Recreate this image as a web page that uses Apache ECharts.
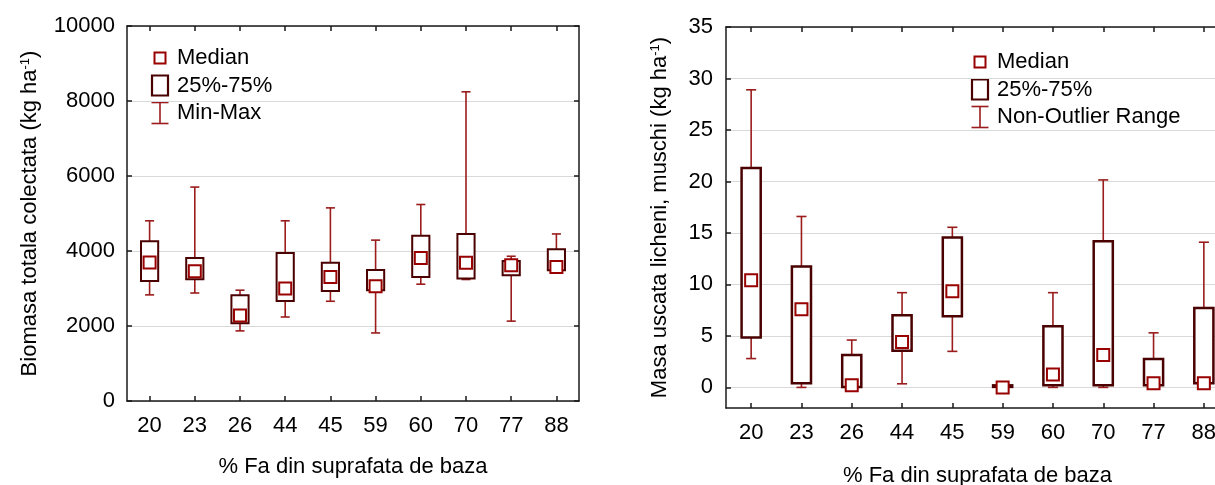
<!DOCTYPE html>
<html>
<head>
<meta charset="utf-8">
<script src="https://cdn.jsdelivr.net/npm/echarts@6/dist/echarts.min.js"></script>
<style>
html,body{margin:0;padding:0;background:#fff;}
#chart{width:1215px;height:485px;}
</style>
</head>
<body>
<div id="chart"></div>
<script>
// ---- Data ----
const categories = ['20', '23', '26', '44', '45', '59', '60', '70', '77', '88'];

// Left chart: Biomasa totala colectata (kg ha-1)
const biomassMin    = [2830, 2880, 1870, 2240, 2660, 1815, 3115, 3240, 2130, 3435];
const biomassQ1     = [3200, 3250, 2075, 2670, 2935, 2955, 3310, 3265, 3355, 3490];
const biomassMedian = [3695, 3460, 2280, 3000, 3310, 3060, 3815, 3685, 3620, 3575];
const biomassQ3     = [4260, 3815, 2820, 3950, 3685, 3495, 4405, 4455, 3735, 4050];
const biomassMax    = [4805, 5705, 2955, 4805, 5150, 4290, 5240, 8245, 3860, 4455];

// Right chart: Masa uscata licheni, muschi (kg ha-1)
const lichenMin    = [2.8, 0.0, 0.05, 0.35, 3.5, 0.0, 0.0, 0.0, 0.1, 0.3];
const lichenQ1     = [4.85, 0.4, 0.05, 3.55, 6.9, 0.05, 0.22, 0.22, 0.22, 0.4];
const lichenMedian = [10.4, 7.6, 0.2, 4.4, 9.35, 0.0, 1.25, 3.15, 0.4, 0.4];
const lichenQ3     = [21.3, 11.75, 3.15, 7.0, 14.55, 0.2, 5.95, 14.2, 2.75, 7.7];
const lichenMax    = [28.9, 16.6, 4.6, 9.2, 15.55, 0.45, 9.2, 20.15, 5.3, 14.1];

const leftTicks = [0, 2000, 4000, 6000, 8000, 10000];
const rightTicks = [0, 5, 10, 15, 20, 25, 30, 35];

const xTitle = '% Fa din suprafata de baza';
const leftYTitle = '{a|Biomasa totala colectata (kg ha}{s|-1}{a|)}';
const rightYTitle = '{a|Masa uscata licheni, muschi (kg ha}{s|-1}{a|)}';
const legendLeft = ['Median', '25%-75%', 'Min-Max'];
const legendRight = ['Median', '25%-75%', 'Non-Outlier Range'];

// ---- Styles ----
const FONT = "'Liberation Sans', Arial, sans-serif";
const FS = 22;
const BOX_COLOR = '#4a0000';
const WHISKER_COLOR = '#9a1c1c';
const MEDIAN_COLOR = '#990000';
const AXIS_COLOR = '#1a1a1a';
const GRID_COLOR = '#d9d9d9';

function whiskerSeries(xi, yi, mins, maxs) {
  return {
    type: 'custom', xAxisIndex: xi, yAxisIndex: yi, z: 2,
    data: categories.map((c, i) => [i, mins[i], maxs[i]]),
    renderItem: function (params, api) {
      const x = api.value(0);
      const lo = api.coord([x, api.value(1)]);
      const hi = api.coord([x, api.value(2)]);
      const cw = api.size([1, 0])[0] * 0.2;
      const st = { stroke: WHISKER_COLOR, lineWidth: 1.6 };
      return {
        type: 'group',
        children: [
          { type: 'line', shape: { x1: lo[0], y1: lo[1], x2: hi[0], y2: hi[1] }, style: st },
          { type: 'line', shape: { x1: hi[0] - cw / 2, y1: hi[1], x2: hi[0] + cw / 2, y2: hi[1] }, style: st },
          { type: 'line', shape: { x1: lo[0] - cw / 2, y1: lo[1], x2: lo[0] + cw / 2, y2: lo[1] }, style: st }
        ]
      };
    }
  };
}

function boxSeries(xi, yi, q1, q3, lw) {
  return {
    type: 'custom', xAxisIndex: xi, yAxisIndex: yi, z: 3,
    data: categories.map((c, i) => [i, q1[i], q3[i]]),
    renderItem: function (params, api) {
      const x = api.value(0);
      const lo = api.coord([x, api.value(1)]);
      const hi = api.coord([x, api.value(2)]);
      const w = api.size([1, 0])[0] * 0.38;
      return {
        type: 'rect',
        shape: { x: lo[0] - w / 2, y: hi[1], width: w, height: Math.max(lo[1] - hi[1], 1) },
        style: { fill: '#fff', stroke: BOX_COLOR, lineWidth: lw }
      };
    }
  };
}

function medianSeries(xi, yi, med) {
  return {
    type: 'scatter', xAxisIndex: xi, yAxisIndex: yi, z: 4,
    symbol: 'rect', symbolSize: 12,
    itemStyle: { color: '#fff', borderColor: MEDIAN_COLOR, borderWidth: 2, opacity: 1 },
    data: categories.map((c, i) => [i, med[i]])
  };
}

function catAxis(gi, pos, showLabel) {
  return {
    type: 'category', gridIndex: gi, position: pos, data: categories,
    boundaryGap: true,
    axisLine: { show: true, onZero: false, lineStyle: { color: AXIS_COLOR, width: 1.5 } },
    axisTick: { show: true, inside: true, length: 5, alignWithLabel: true, lineStyle: { color: AXIS_COLOR, width: 1.5 } },
    axisLabel: { show: showLabel, color: '#000', fontSize: FS, fontFamily: FONT, margin: 14 },
    splitLine: { show: false }
  };
}

function richName() {
  return {
    color: '#000', fontSize: FS, fontFamily: FONT,
    rich: {
      a: { fontSize: FS, fontFamily: FONT, color: '#000' },
      s: { fontSize: 13, fontFamily: FONT, color: '#000', verticalAlign: 'top', lineHeight: 22 }
    }
  };
}

function legendGraphics(x0, yMed, labels) {
  const lineH = 27.5;
  const cx = x0;
  const tx = x0 + 17;
  const els = [];
  els.push({ type: 'rect', shape: { x: cx - 5.5, y: yMed - 5.5, width: 11, height: 11 },
    style: { fill: '#fff', stroke: MEDIAN_COLOR, lineWidth: 2 } });
  const yb = yMed + lineH;
  els.push({ type: 'rect', shape: { x: cx - 8, y: yb - 10, width: 16, height: 20 },
    style: { fill: '#fff', stroke: BOX_COLOR, lineWidth: 2.2 } });
  const yw = yMed + 2 * lineH;
  els.push({ type: 'polyline', shape: { points: [[cx - 8.5, yw - 10.5], [cx + 8.5, yw - 10.5]] }, style: { stroke: WHISKER_COLOR, lineWidth: 1.6, fill: null } });
  els.push({ type: 'polyline', shape: { points: [[cx, yw - 10.5], [cx, yw + 10.5]] }, style: { stroke: WHISKER_COLOR, lineWidth: 1.6, fill: null } });
  els.push({ type: 'polyline', shape: { points: [[cx - 8.5, yw + 10.5], [cx + 8.5, yw + 10.5]] }, style: { stroke: WHISKER_COLOR, lineWidth: 1.6, fill: null } });
  [yMed, yb, yw].forEach((y, i) => {
    els.push({ type: 'text', x: tx, y: y,
      style: { text: labels[i], font: FS + 'px ' + FONT, fill: '#000', verticalAlign: 'middle', align: 'left' } });
  });
  return els;
}

const chart = echarts.init(document.getElementById('chart'), null, { renderer: 'canvas' });

const plainNum = v => String(v);

const option = {
  animation: false,
  backgroundColor: '#fff',
  grid: [
    { left: 127, top: 26, width: 452, height: 375, containLabel: false, outerBoundsMode: 'none' },
    { left: 726, top: 27, width: 503, height: 381, containLabel: false, outerBoundsMode: 'none' }
  ],
  xAxis: [
    Object.assign(catAxis(0, 'bottom', true), {
      name: xTitle, nameLocation: 'middle', nameGap: 55,
      nameTextStyle: { color: '#000', fontSize: FS, fontFamily: FONT }
    }),
    catAxis(0, 'top', false),
    Object.assign(catAxis(1, 'bottom', true), {
      name: xTitle, nameLocation: 'middle', nameGap: 57,
      nameTextStyle: { color: '#000', fontSize: FS, fontFamily: FONT }
    }),
    catAxis(1, 'top', false)
  ],
  yAxis: [
    {
      type: 'value', gridIndex: 0, position: 'left', min: 0, max: 10000, interval: 2000,
      name: leftYTitle, nameLocation: 'middle', nameGap: 86, nameRotate: 90,
      nameTextStyle: richName(),
      axisLine: { show: true, lineStyle: { color: AXIS_COLOR, width: 1.5 } },
      axisTick: { show: true, inside: true, length: 5, customValues: leftTicks, lineStyle: { color: AXIS_COLOR, width: 1.5 } },
      axisLabel: { color: '#000', fontSize: FS, fontFamily: FONT, margin: 12, customValues: leftTicks, formatter: plainNum },
      splitLine: { show: true, lineStyle: { color: GRID_COLOR, width: 1.2 } }
    },
    {
      type: 'value', gridIndex: 0, position: 'right', min: 0, max: 10000, interval: 2000,
      axisLine: { show: true, lineStyle: { color: AXIS_COLOR, width: 1.5 } },
      axisTick: { show: true, inside: true, length: 5, lineStyle: { color: AXIS_COLOR, width: 1.5 } },
      axisLabel: { show: false },
      splitLine: { show: false }
    },
    {
      type: 'value', gridIndex: 1, position: 'left', min: -2, max: 35,
      name: rightYTitle, nameLocation: 'middle', nameGap: 55, nameRotate: 90,
      nameTextStyle: richName(),
      axisLine: { show: true, lineStyle: { color: AXIS_COLOR, width: 1.5 } },
      axisTick: { show: true, inside: true, length: 5, customValues: rightTicks, lineStyle: { color: AXIS_COLOR, width: 1.5 } },
      axisLabel: { color: '#000', fontSize: FS, fontFamily: FONT, margin: 13, customValues: rightTicks, formatter: plainNum },
      splitLine: { show: true, lineStyle: { color: GRID_COLOR, width: 1.2 } }
    }
  ],
  series: [
    whiskerSeries(0, 0, biomassMin, biomassMax),
    boxSeries(0, 0, biomassQ1, biomassQ3, 2),
    medianSeries(0, 0, biomassMedian),
    whiskerSeries(2, 2, lichenMin, lichenMax),
    boxSeries(2, 2, lichenQ1, lichenQ3, 2.5),
    medianSeries(2, 2, lichenMedian)
  ],
  graphic: legendGraphics(160, 58, legendLeft).concat(legendGraphics(980, 62, legendRight))
};

chart.setOption(option);
</script>
</body>
</html>
